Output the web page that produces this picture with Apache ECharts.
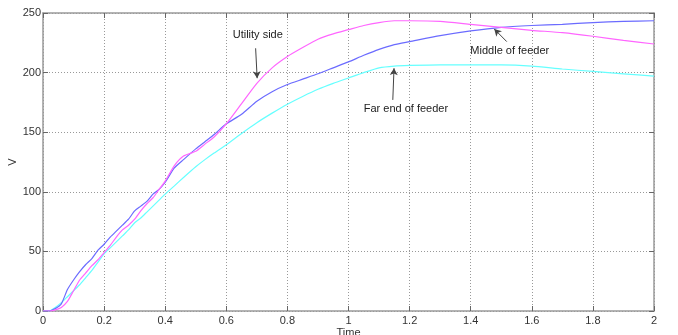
<!DOCTYPE html>
<html>
<head>
<meta charset="utf-8">
<script src="https://cdn.jsdelivr.net/npm/echarts@6/dist/echarts.min.js"></script>
<style>html,body{margin:0;padding:0;background:#fff}#c{width:678px;height:335px}</style>
</head>
<body>
<div id="c"></div>
<script>
const time = [0,0.02,0.04,0.06,0.08,0.1,0.12,0.14,0.16,0.18,0.2,0.22,0.24,0.26,0.28,0.3,0.32,0.34,0.36,0.38,0.4,0.43,0.46,0.5,0.53,0.56,0.6,0.65,0.7,0.75,0.8,0.85,0.9,0.95,1.0,1.05,1.1,1.15,1.2,1.3,1.4,1.5,1.6,1.7,1.8,1.9,2.0];
const utilitySide = [0,0,1,3,8,17,26,32,38,43,49,55,62,68,72,77,84,90,95,102,109,122,130,134,140,146,157,174,191,204,213.5,221,228,232.5,236,239.5,242,243.5,243.5,243,240.5,238,235.5,233.5,230.5,227,224];
const middleOfFeeder = [0,0,2,6,18,26,33,39,44,51,56,62,67,72,77,84,88,92,98,102,108,120,127,136,142,148,157,165,176,184,190,194.5,199,204,209,214.5,219.5,223.5,226,231,235,238,239.5,240.5,242,243,243.5];
const farEndOfFeeder = [0,0,3,7,12,17,22,28,34,41,48,53,58,63,68,74,78,83,88,93,98,105,112,121,127,132.5,139.5,149,158,166,173.5,180,186,191,195.5,200,204,205.5,206,206.5,206.5,206.5,205.5,203,201,199,197];
const xTicks = {min:0, max:2, interval:0.2};
const yTicks = {min:0, max:250, interval:50};
const annotations = [
  {text:'Utility side', label:[0.703,231.7], from:[0.696,220.4], to:[0.701,195.3]},
  {text:'Middle of feeder', label:[1.528,218.2], from:[1.518,226], to:[1.477,236.6]},
  {text:'Far end of feeder', label:[1.188,169.6], from:[1.145,177.1], to:[1.149,203.7]}
];

const font = 'Liberation Sans, Arial, sans-serif';
const pair = a => time.map((t,i)=>[t,a[i]]);
const chart = echarts.init(document.getElementById('c'), null, {renderer:'canvas'});
const axisBase = {
  axisLine:{show:true,onZero:false,lineStyle:{color:'#9a9a9a',width:1.5}},
  axisTick:{show:true,inside:true,length:5,lineStyle:{color:'#666'}},
  nameMoveOverlap:false
};
chart.setOption({
  animation:false,
  backgroundColor:'#fff',
  grid:{left:43,right:24,top:13,bottom:24,containLabel:false,outerBoundsMode:'none'},
  xAxis:[
    Object.assign({type:'value',position:'bottom',min:xTicks.min,max:xTicks.max,interval:xTicks.interval,
      name:'Time',nameLocation:'middle',nameGap:16,nameTextStyle:{fontFamily:font,fontSize:11,color:'#333'},
      axisLabel:{fontFamily:font,fontSize:11,color:'#333',margin:4},
      splitLine:{show:true,lineStyle:{color:'#999',type:[1,2],width:1}}},axisBase),
    Object.assign({type:'value',position:'top',min:xTicks.min,max:xTicks.max,interval:xTicks.interval,
      axisLabel:{show:false},splitLine:{show:false}},axisBase)
  ],
  yAxis:[
    Object.assign({type:'value',position:'left',min:yTicks.min,max:yTicks.max,interval:yTicks.interval,
      name:'V',nameLocation:'middle',nameGap:25,nameTextStyle:{fontFamily:font,fontSize:11,color:'#333'},
      axisLabel:{fontFamily:font,fontSize:11,color:'#333',margin:2},
      splitLine:{show:true,lineStyle:{color:'#999',type:[1,2],width:1}}},axisBase),
    Object.assign({type:'value',position:'right',min:yTicks.min,max:yTicks.max,interval:yTicks.interval,
      axisLabel:{show:false},splitLine:{show:false}},axisBase)
  ],
  series:[
    {name:'Far end of feeder',type:'line',data:pair(farEndOfFeeder),showSymbol:false,smooth:0.2,
      lineStyle:{color:'#66ffff',width:1.2}},
    {name:'Middle of feeder',type:'line',data:pair(middleOfFeeder),showSymbol:false,smooth:0.2,
      lineStyle:{color:'#6b6bff',width:1.2}},
    {name:'Utility side',type:'line',data:pair(utilitySide),showSymbol:false,smooth:0.2,
      lineStyle:{color:'#ff66ff',width:1.2},
      markLine:{silent:true,symbol:['none','arrow'],symbolSize:[6,7],
        lineStyle:{color:'#444',width:1,type:'solid'},label:{show:false},
        data:annotations.map(a=>[{coord:a.from},{coord:a.to}])},
      markPoint:{silent:true,symbol:'circle',symbolSize:1,itemStyle:{color:'rgba(0,0,0,0)'},
        label:{show:true,position:'inside',formatter:'{b}',fontFamily:font,fontSize:11,color:'#222'},
        data:annotations.map(a=>({name:a.text,coord:a.label}))}
    }
  ]
});
</script>
</body>
</html>
